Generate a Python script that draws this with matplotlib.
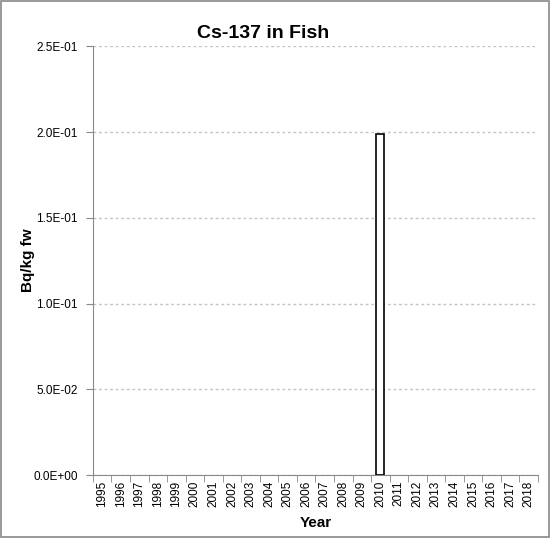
import matplotlib
matplotlib.use("Agg")
import matplotlib.pyplot as plt
from matplotlib.patches import Rectangle

years = [str(y) for y in range(1995, 2019)]
values = [0]*15 + [0.199] + [0]*8
yticks = [0.0, 0.05, 0.10, 0.15, 0.20, 0.25]
ytick_labels = ["0.0E+00", "5.0E-02", "1.0E-01", "1.5E-01", "2.0E-01", "2.5E-01"]

plt.rcParams['font.family'] = ['Liberation Sans', 'DejaVu Sans']
fig = plt.figure(figsize=(5.5, 5.38), dpi=100)
ax = fig.add_axes([0.169, 0.117, 0.809, 0.797])

x = list(range(len(years)))
bars = [(i, v) for i, v in zip(x, values) if v > 0]
ax.bar([b[0] for b in bars], [b[1] for b in bars], width=0.45,
       color='white', edgecolor='black', linewidth=1.2, zorder=3)

ax.set_xlim(-0.5, len(years) - 0.5)
ax.set_ylim(0, 0.25)
ax.set_yticks(yticks)
ax.set_yticklabels(ytick_labels, fontsize=8.5)
ax.set_xticks(x)
ax.set_xticklabels(years, rotation=90, fontsize=8.5)
ax.set_xticks([i - 0.5 for i in range(len(years) + 1)], minor=True)
ax.tick_params(axis='x', which='major', length=0, pad=4)
ax.tick_params(axis='x', which='minor', length=5, color='#888888')
ax.tick_params(axis='y', length=5, color='#888888', pad=6)
ax.grid(axis='y', linestyle=(0, (2, 2)), color='#c4c4c4', linewidth=1, zorder=0)
for s in ['top', 'right']:
    ax.spines[s].set_visible(False)
for s in ['left', 'bottom']:
    ax.spines[s].set_color('#888888')

ax.set_xlabel('Year', fontsize=11, fontweight='bold', va='center')
ax.set_ylabel('Bq/kg fw', fontsize=11, fontweight='bold')
ax.xaxis.set_label_coords(0.50, -0.112)
ax.yaxis.set_label_coords(-0.130, 0.5)
fig.text(0.478, 0.938, 'Cs-137 in Fish', ha='center', va='center', fontsize=14, fontweight='bold')

fig.add_artist(Rectangle((0.002, 0.002), 0.996, 0.996, transform=fig.transFigure,
                         fill=False, edgecolor='#888888', linewidth=1.2))
fig.savefig('out.png', dpi=100)
